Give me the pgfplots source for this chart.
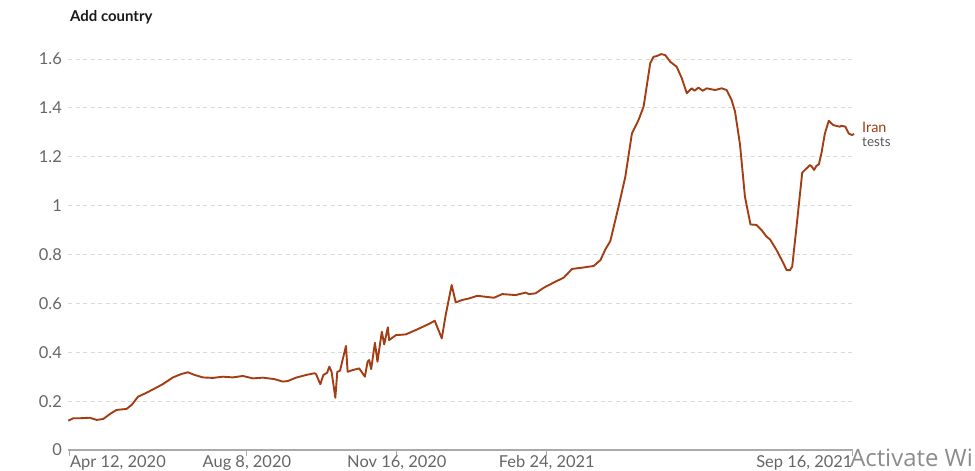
\documentclass[border=0pt]{standalone}
\usepackage{pgfplots}
\pgfplotsset{compat=1.18}
\usepackage{fontspec}
\setmainfont{Lato}
\newfontfamily\wmfont{Open Sans}
\definecolor{iran}{RGB}{163,62,20}
\definecolor{tickgray}{RGB}{102,102,102}
\definecolor{axgray}{RGB}{170,170,170}
\definecolor{gridgray}{RGB}{218,218,218}
\begin{document}
\begin{tikzpicture}
\useasboundingbox (0,0) rectangle (975bp,471bp);
\begin{axis}[
  at={(68bp,21bp)}, anchor=south west,
  scale only axis, width=784.6bp, height=391bp,
  xmin=-1.3, xmax=522, ymin=0, ymax=1.6,
  clip=false,
  axis x line*=bottom, axis y line*=left,
  y axis line style={draw=none},
  x axis line style={axgray, line width=1.3bp},
  xtick={0,118,218,318,522}, xticklabels={},
  major tick length=6bp, tick align=outside,
  x tick style={axgray, line width=1bp},
  ytick={0,0.2,0.4,0.6,0.8,1,1.2,1.4,1.6},
  y tick style={draw=none},
  ymajorgrids,
  grid style={gridgray, dash pattern=on 4bp off 3.5bp, line width=0.9bp},
  yticklabel style={font=\fontsize{16.5}{18}\selectfont, text=tickgray, inner sep=0pt},
  /pgf/number format/assume math mode=true,
]
\addplot[iran, line width=1.9bp, line join=round] coordinates {
(-1.1,0.120) (2.2,0.130) (6.7,0.130) (13.3,0.132) (17.8,0.123) (22.2,0.127)
(26.6,0.147) (31.1,0.164) (37.7,0.168) (41.1,0.184) (45.4,0.218) (51.0,0.234)
(56.6,0.252) (62.1,0.270) (68.7,0.297) (74.3,0.311) (78.7,0.318) (83.2,0.307)
(88.7,0.297) (95.3,0.295) (102.0,0.300) (108.6,0.297) (115.3,0.303) (122.0,0.293)
(128.6,0.296) (136.4,0.290) (141.9,0.280) (145.2,0.282) (150.8,0.296) (157.5,0.307)
(163.0,0.314) (164.1,0.311) (167.0,0.269) (169.0,0.307) (171.5,0.316) (173.0,0.341)
(174.5,0.320) (177.0,0.214) (178.3,0.320) (180.1,0.324) (184.1,0.426) (185.2,0.320)
(188.5,0.327) (192.9,0.334) (196.7,0.300) (198.5,0.361) (199.6,0.368) (200.9,0.331)
(203.4,0.439) (205.1,0.361) (208.0,0.484) (209.6,0.432) (212.0,0.502) (212.9,0.450)
(217.4,0.470) (224.0,0.473) (230.7,0.491) (239.5,0.516) (243.3,0.529) (248.0,0.457)
(250.6,0.552) (254.6,0.675) (257.3,0.604) (261.7,0.614) (266.1,0.620) (271.7,0.631)
(277.2,0.627) (282.8,0.623) (288.3,0.638) (297.2,0.634) (303.9,0.644) (306.1,0.638)
(310.5,0.641) (316.0,0.664) (323.8,0.689) (329.3,0.705) (334.9,0.741) (341.5,0.746)
(349.3,0.753) (353.8,0.777) (357.1,0.821) (360.4,0.855) (365.9,0.996) (370.4,1.118)
(374.8,1.295) (379.2,1.350) (382.6,1.405) (387.0,1.582) (389.2,1.609) (391.4,1.612)
(394.3,1.620) (397.0,1.616) (400.3,1.589) (404.7,1.568) (408.1,1.521) (411.4,1.460)
(414.7,1.480) (416.5,1.470) (419.2,1.483) (422.0,1.470) (424.7,1.480) (430.3,1.473)
(434.7,1.480) (438.0,1.473) (441.3,1.432) (443.6,1.384) (446.9,1.250) (450.2,1.036)
(453.9,0.923) (457.9,0.921) (461.3,0.900) (464.6,0.873) (466.9,0.862) (471.3,0.818)
(475.7,0.766) (478.0,0.736) (480.2,0.736) (481.7,0.750) (484.6,0.914) (488.4,1.135)
(491.2,1.152) (493.5,1.166) (494.5,1.162) (496.3,1.146) (497.9,1.163) (499.5,1.169)
(501.2,1.214) (503.5,1.295) (506.1,1.347) (509.0,1.330) (511.2,1.326) (513.5,1.323)
(514.5,1.327) (517.2,1.323) (519.4,1.295) (521.6,1.289) (523.0,1.293)
};
\node[anchor=base west, inner sep=0pt, yshift=-17bp, text=tickgray, font=\fontsize{16.5}{18}\selectfont] at (axis cs:0,0) {Apr 12, 2020};
\node[anchor=base, inner sep=0pt, yshift=-17bp, text=tickgray, font=\fontsize{16.5}{18}\selectfont] at (axis cs:118,0) {Aug 8, 2020};
\node[anchor=base, inner sep=0pt, yshift=-17bp, text=tickgray, font=\fontsize{16.5}{18}\selectfont] at (axis cs:218,0) {Nov 16, 2020};
\node[anchor=base, inner sep=0pt, yshift=-17bp, text=tickgray, font=\fontsize{16.5}{18}\selectfont] at (axis cs:318,0) {Feb 24, 2021};
\node[anchor=base east, inner sep=0pt, yshift=-17bp, text=tickgray, font=\fontsize{16.5}{18}\selectfont] at (axis cs:522,0) {Sep 16, 2021};
\end{axis}
\node[anchor=west, inner sep=0pt, font=\fontsize{15}{17}\bfseries\selectfont, text=black!90] at (70bp,454bp) {Add country};
\node[anchor=west, inner sep=0pt, font=\fontsize{14.5}{16}\selectfont, text=iran] at (862bp,344bp) {Iran};
\node[anchor=west, inner sep=0pt, font=\fontsize{13.5}{15}\selectfont, text=black!65] at (862bp,329bp) {tests};
\node[anchor=base east, inner sep=0pt, font=\wmfont\fontsize{24}{26}\selectfont, text=black!45] at (973bp,5bp) {Activate Wi};
\end{tikzpicture}
\end{document}
